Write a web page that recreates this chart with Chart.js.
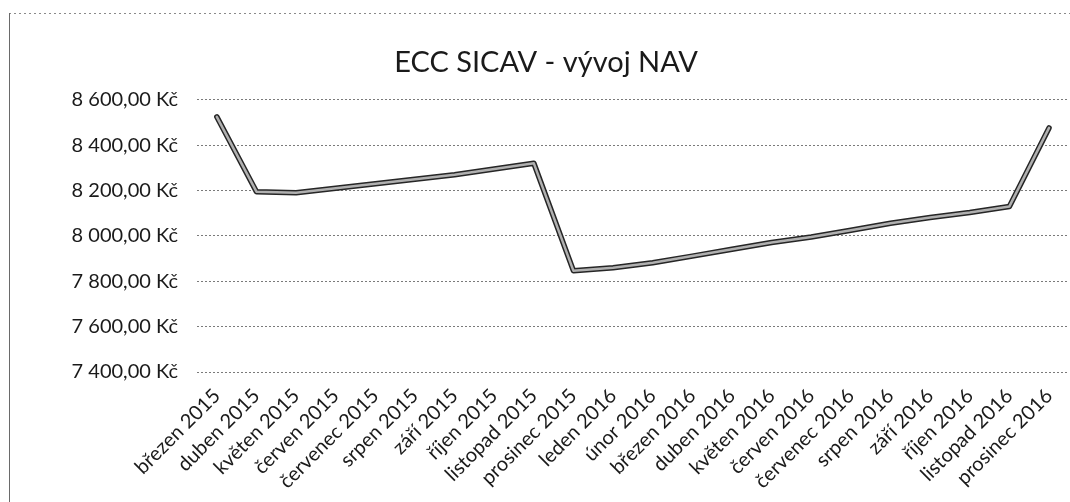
<!DOCTYPE html>
<html>
<head>
  <meta charset="utf-8">
  <title>ECC SICAV - vývoj NAV</title>
  <script src="https://cdn.jsdelivr.net/npm/chart.js@4/dist/chart.umd.min.js"></script>
  <style>
    html, body { margin: 0; padding: 0; background: #fff; overflow: hidden; }
    canvas { display: block; }
  </style>
</head>
<body>
  <canvas id="chartCanvas" width="1070" height="502"></canvas>

  <script>
    const months = [
      'březen 2015', 'duben 2015', 'květen 2015', 'červen 2015', 'červenec 2015',
      'srpen 2015', 'září 2015', 'říjen 2015', 'listopad 2015', 'prosinec 2015',
      'leden 2016', 'únor 2016', 'březen 2016', 'duben 2016', 'květen 2016',
      'červen 2016', 'červenec 2016', 'srpen 2016', 'září 2016', 'říjen 2016',
      'listopad 2016', 'prosinec 2016'
    ];
    const nav = [
      8525, 8195, 8190, 8210, 8230, 8250, 8270, 8295, 8320, 7846,
      7860, 7882, 7911, 7941, 7971, 7995, 8025, 8056, 8081, 8103,
      8130, 8476
    ];
    const yTicks = [7400, 7600, 7800, 8000, 8200, 8400, 8600];

    function formatKc(v) {
      const s = v.toFixed(2).split('.');
      const whole = s[0].replace(/\B(?=(\d{3})+(?!\d))/g, ' ');
      return whole + ',' + s[1] + ' Kč';
    }

    // outer chart frame (only top and left edges are in view) + title nudge
    const framePlugin = {
      id: 'frame',
      afterLayout(chart) {
        chart.titleBlock.left += 11;
        chart.titleBlock.right += 11;
      },
      beforeDraw(chart) {
        const c = chart.ctx;
        c.save();
        c.strokeStyle = '#8a8a8a';
        c.lineWidth = 1;
        c.setLineDash([2, 3]);
        c.beginPath();
        c.moveTo(9, 13.5);
        c.lineTo(chart.width, 13.5);
        c.stroke();
        c.setLineDash([]);
        c.strokeStyle = '#6a6a6a';
        c.beginPath();
        c.moveTo(9.5, 13);
        c.lineTo(9.5, chart.height);
        c.stroke();
        c.restore();
      }
    };

    const font = 'Lato, "Open Sans", sans-serif';
    const ctx = document.getElementById('chartCanvas').getContext('2d');

    new Chart(ctx, {
      type: 'line',
      data: {
        labels: months,
        datasets: [
          { // light core of the line
            data: nav,
            borderColor: '#b0b0b0',
            borderWidth: 2.5,
            pointRadius: 0,
            borderCapStyle: 'round',
            borderJoinStyle: 'round',
            tension: 0,
            order: 1
          },
          { // dark outline
            data: nav,
            borderColor: '#262626',
            borderWidth: 5.5,
            pointRadius: 0,
            borderCapStyle: 'round',
            borderJoinStyle: 'round',
            tension: 0,
            order: 2
          }
        ]
      },
      options: {
        responsive: false,
        animation: false,
        devicePixelRatio: 1,
        layout: { padding: 0 },
        plugins: {
          legend: { display: false },
          tooltip: { enabled: false },
          title: {
            display: true,
            text: 'ECC SICAV - vývoj NAV',
            color: '#1a1a1a',
            font: { family: font, size: 29, weight: 'normal' },
            padding: { top: 45, bottom: 20 }
          }
        },
        scales: {
          x: {
            offset: true,
            grid: { display: false },
            border: { display: false },
            ticks: {
              autoSkip: false,
              minRotation: 45,
              maxRotation: 45,
              padding: 4,
              color: '#1a1a1a',
              font: { family: font, size: 20 }
            },
            afterFit: function(scale) { scale.height = 130; }
          },
          y: {
            min: yTicks[0],
            max: yTicks[yTicks.length - 1],
            afterBuildTicks: function(scale) {
              scale.ticks = yTicks.map(v => ({ value: v }));
            },
            border: { display: false, dash: [2, 2] },
            grid: {
              color: '#7a7a7a',
              lineWidth: 1,
              drawTicks: false
            },
            ticks: {
              padding: 19,
              color: '#1a1a1a',
              font: { family: font, size: 20 },
              callback: v => formatKc(v)
            },
            afterFit: function(scale) { scale.width = 197; }
          }
        }
      },
      plugins: [framePlugin]
    });
  </script>
</body>
</html>
